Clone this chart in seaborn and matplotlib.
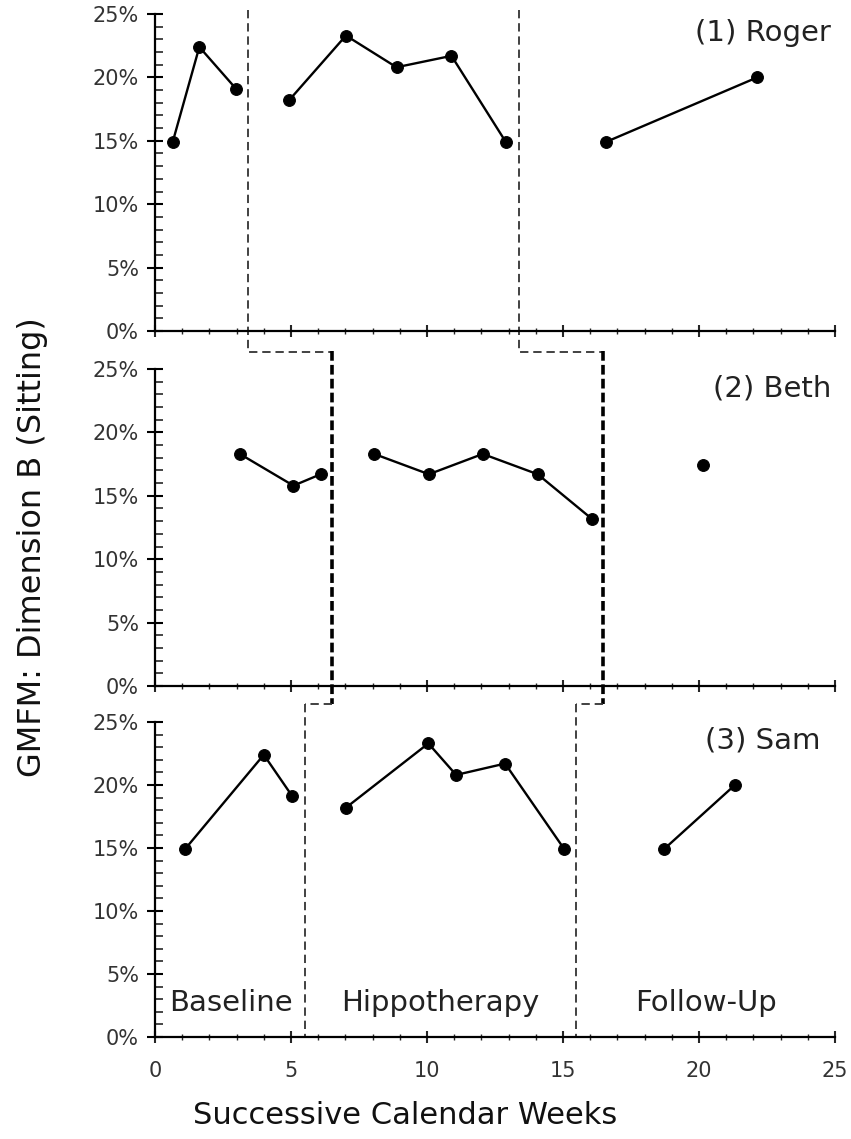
import numpy as np
import pandas as pd
import seaborn as sns
import matplotlib.pyplot as plt
from matplotlib.ticker import MultipleLocator, FuncFormatter

# ---- data ----
names = ['(1) Roger', '(2) Beth', '(3) Sam']

roger_weeks = [0.65, 1.63, 2.98, 4.93, 7.02, 8.88, 10.9, 12.9, 16.57, 22.14]
roger_scores = [14.9, 22.4, 19.1, 18.2, 23.3, 20.8, 21.7, 14.9, 14.9, 20.0]
roger_phase = ['B', 'B', 'B', 'H', 'H', 'H', 'H', 'H', 'F', 'F']

beth_weeks = [3.12, 5.09, 6.09, 8.06, 10.07, 12.05, 14.07, 16.05, 20.16]
beth_scores = [18.3, 15.8, 16.7, 18.3, 16.7, 18.3, 16.7, 13.2, 17.4]
beth_phase = ['B', 'B', 'B', 'H', 'H', 'H', 'H', 'H', 'F']

sam_weeks = [1.1, 4.0, 5.05, 7.02, 10.05, 11.07, 12.87, 15.05, 18.71, 21.32]
sam_scores = [14.9, 22.4, 19.1, 18.2, 23.3, 20.8, 21.7, 14.9, 14.9, 20.0]
sam_phase = ['B', 'B', 'B', 'H', 'H', 'H', 'H', 'H', 'F', 'F']

# phase change lines (baseline->hippo, hippo->follow-up)
roger_changes = [3.43, 13.38]
beth_changes = [6.52, 16.48]
sam_changes = [5.51, 15.48]

phase_labels = ['Baseline', 'Hippotherapy', 'Follow-Up']
phase_label_x = [2.81, 10.48, 20.24]

# ---- style ----
sns.set_style('ticks')
plt.rcParams['font.family'] = ['DejaVu Sans']
plt.rcParams['lines.scale_dashes'] = False

fig = plt.figure(figsize=(8.51, 11.39), dpi=100)
left, width = 155 / 851, 680 / 851
bottoms = [1 - 331 / 1139, 1 - 686 / 1139, 1 - 1037 / 1139]
heights = [317 / 1139, 317 / 1139, 315 / 1139]
axes = [fig.add_axes([left, b, width, h]) for b, h in zip(bottoms, heights)]

panels = [
    (roger_weeks, roger_scores, roger_phase),
    (beth_weeks, beth_scores, beth_phase),
    (sam_weeks, sam_scores, sam_phase),
]
name_x = [24.85, 24.85, 24.45]

for i, (ax, (wk, sc, ph)) in enumerate(zip(axes, panels)):
    df = pd.DataFrame({'week': wk, 'score': sc, 'phase': ph})
    sns.lineplot(data=df, x='week', y='score', units='phase', estimator=None,
                 color='black', marker='o', markersize=8.5, markeredgecolor='black',
                 linewidth=1.7, ax=ax, legend=False)
    ax.set_xlim(0, 25)
    ax.set_ylim(0, 25)
    ax.set_xlabel('')
    ax.set_ylabel('')
    sns.despine(ax=ax)
    for s in ['left', 'bottom']:
        ax.spines[s].set_linewidth(1.6)
        ax.spines[s].set_color('black')
    ax.xaxis.set_major_locator(MultipleLocator(5))
    ax.xaxis.set_minor_locator(MultipleLocator(1))
    ax.yaxis.set_major_locator(MultipleLocator(5))
    ax.yaxis.set_minor_locator(MultipleLocator(1))
    ax.yaxis.set_major_formatter(FuncFormatter(lambda v, p: f'{v:.0f}%'))
    ax.tick_params(axis='y', which='major', direction='inout', length=11, width=1.5,
                   labelsize=15, pad=6, colors='black', labelcolor='#333333')
    ax.tick_params(axis='y', which='minor', direction='in', length=6, width=1.2)
    ax.tick_params(axis='x', which='major', direction='inout', length=9, width=1.5,
                   labelsize=15, pad=13, labelcolor='#333333')
    ax.tick_params(axis='x', which='minor', direction='inout', length=5, width=1.0)
    if i < 2:
        ax.tick_params(axis='x', labelbottom=False)
    ax.text(name_x[i], 23.5, names[i], ha='right', va='center', fontsize=21, color='#222222')

thin = dict(color='#333333', lw=1.3, dashes=(6, 3.5), clip_on=False)
thick = dict(color='black', lw=2.6, dashes=(7, 3), clip_on=False)

for r, b, s in zip(roger_changes, beth_changes, sam_changes):
    # panel 1: vertical then horizontal step into the gap
    axes[0].plot([r, r, b], [25.3, -1.65, -1.65], **thin)
    # panel 2: bold vertical, then short horizontal step
    axes[1].plot([b, b], [26.4, -1.45], **thick)
    axes[1].plot([b, s], [-1.45, -1.45], **thin)
    # panel 3
    axes[2].plot([s, s], [26.4, 0], **thin)

for lab, x in zip(phase_labels, phase_label_x):
    axes[2].text(x, 2.7, lab, ha='center', va='center', fontsize=21, color='#222222')

fig.text(405 / 851, 1 - 1115 / 1139, 'Successive Calendar Weeks', ha='center', va='center',
         fontsize=22, color='#111111')
fig.text(33 / 851, 1 - 547 / 1139, 'GMFM: Dimension B (Sitting)', ha='center', va='center',
         rotation=90, fontsize=23, color='#111111')

fig.savefig('out.png', dpi=100)
